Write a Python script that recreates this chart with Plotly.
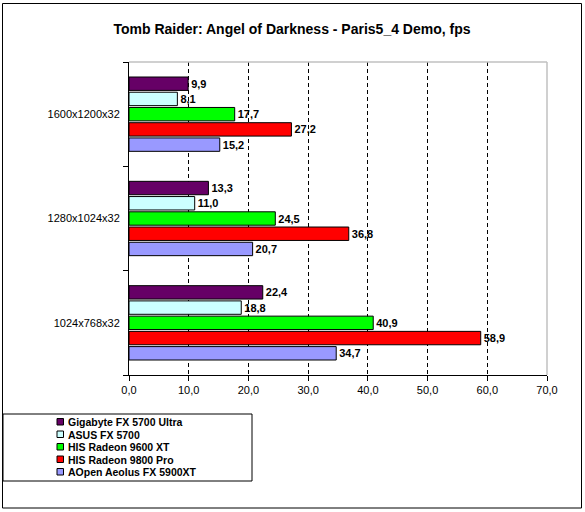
import plotly.graph_objects as go

title = "Tomb Raider: Angel of Darkness - Paris5_4 Demo, fps"
categories = ["1024x768x32", "1280x1024x32", "1600x1200x32"]
series_names = ["Gigabyte FX 5700 Ultra", "ASUS FX 5700", "HIS Radeon 9600 XT",
                "HIS Radeon 9800 Pro", "AOpen Aeolus FX 5900XT"]
series_colors = ["#660066", "#CCFFFF", "#00FF00", "#FF0000", "#9999FF"]
# values for categories in order: 1024x768x32, 1280x1024x32, 1600x1200x32
gigabyte = [22.4, 13.3, 9.9]
asus = [18.8, 11.0, 8.1]
his9600 = [40.9, 24.5, 17.7]
his9800 = [58.9, 36.8, 27.2]
aopen = [34.7, 20.7, 15.2]
series_values = [gigabyte, asus, his9600, his9800, aopen]
x_ticks = [0, 10, 20, 30, 40, 50, 60, 70]

W, H = 585, 512
L, R, T, B = 129, 547, 62, 375
PW, PH = R - L, B - T


def px(x):
    return (x - L) / PW


def py(y):
    return (B - y) / PH


FONT = "Liberation Sans, Arial, sans-serif"

fig = go.Figure()
# add in reverse so the first series sits at the top of each group
for name, color, vals in reversed(list(zip(series_names, series_colors, series_values))):
    fig.add_trace(go.Bar(
        y=categories, x=vals, name=name, orientation="h",
        marker=dict(color=color, line=dict(color="black", width=1)),
        texttemplate="%{x:.1f}", textposition="outside",
        textfont=dict(family=FONT, size=11, color="black", weight="bold"),
        constraintext="none", cliponaxis=False, showlegend=False,
    ))

shapes = []
# outer chart border
shapes.append(dict(type="rect", xref="paper", yref="paper",
                   x0=px(2.5), x1=px(581.5), y0=py(3.5), y1=py(508),
                   line=dict(color="black", width=1), fillcolor="rgba(0,0,0,0)", layer="below"))
# plot area top / right border
shapes.append(dict(type="line", xref="paper", yref="paper", x0=0, x1=1, y0=1, y1=1,
                   line=dict(color="#C0C0C0", width=1.5), layer="above"))
shapes.append(dict(type="line", xref="paper", yref="paper", x0=1, x1=1, y0=0, y1=1,
                   line=dict(color="#C0C0C0", width=1.5), layer="above"))
# legend box
shapes.append(dict(type="rect", xref="paper", yref="paper",
                   x0=px(3), x1=px(252), y0=py(414), y1=py(481),
                   line=dict(color="black", width=1), fillcolor="white", layer="below"))

annotations = []
row_y = [422, 434.5, 447, 459.5, 472]
for name, color, ry in zip(series_names, series_colors, row_y):
    shapes.append(dict(type="rect", xref="paper", yref="paper",
                       x0=px(57), x1=px(63.5), y0=py(ry - 3.5), y1=py(ry + 3),
                       line=dict(color="black", width=1), fillcolor=color))
    annotations.append(dict(xref="paper", yref="paper", x=px(66), y=py(ry),
                            xanchor="left", yanchor="middle", showarrow=False,
                            text=name,
                            font=dict(family=FONT, size=10.5, color="black", weight="bold")))

fig.update_layout(
    width=W, height=H,
    margin=dict(l=L, r=W - R, t=T, b=H - B, pad=0),
    paper_bgcolor="white", plot_bgcolor="white",
    barmode="group", bargap=0.27, bargroupgap=0.12,
    separators=", ",
    title=dict(text="<b>" + title + "</b>", x=292 / W, xanchor="center",
               y=1 - 29 / H, yanchor="middle",
               font=dict(family=FONT, size=14, color="black")),
    font=dict(family=FONT, size=11, color="black"),
    xaxis=dict(range=[0, 70], tickvals=x_ticks, tickformat=".1f",
               showline=True, linecolor="black", linewidth=1,
               ticks="outside", ticklen=5, tickcolor="black",
               showgrid=True, gridcolor="black", griddash="4px,3px", gridwidth=1,
               zeroline=False, tickfont=dict(family=FONT, size=11)),
    yaxis=dict(type="category", categoryorder="array", categoryarray=categories,
               showline=True, linecolor="black", linewidth=1,
               ticks="outside", ticklen=5, tickcolor="black", tickson="boundaries",
               showgrid=False, zeroline=False, ticklabelstandoff=6,
               tickfont=dict(family=FONT, size=11)),
    shapes=shapes, annotations=annotations, showlegend=False,
)

fig.write_html("out.html", config={"displayModeBar": False},
               post_script="document.body.style.margin='0';document.body.style.overflow='hidden';")
